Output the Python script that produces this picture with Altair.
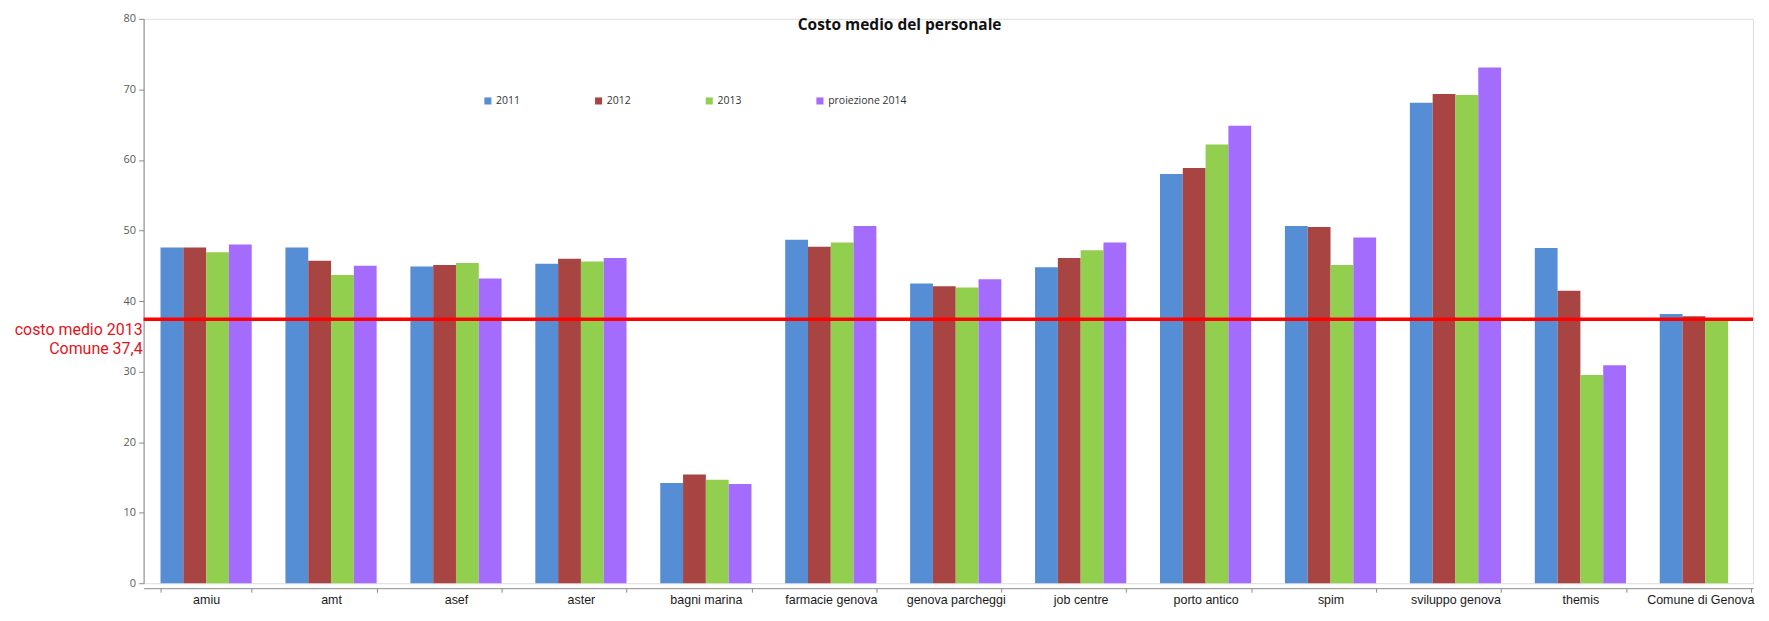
import altair as alt
import pandas as pd

# ---- data ----
categories = ["amiu", "amt", "asef", "aster", "bagni marina", "farmacie genova",
              "genova parcheggi", "job centre", "porto antico", "spim",
              "sviluppo genova", "themis", "Comune di Genova"]
series = ["2011", "2012", "2013", "proiezione 2014"]
v2011 = [47.6, 47.6, 44.9, 45.3, 14.2, 48.7, 42.5, 44.8, 58.0, 50.65, 68.1, 47.5, 38.15]
v2012 = [47.6, 45.7, 45.1, 46.0, 15.4, 47.7, 42.1, 46.1, 58.85, 50.5, 69.35, 41.45, 37.85]
v2013 = [46.9, 43.7, 45.4, 45.6, 14.65, 48.3, 41.9, 47.2, 62.2, 45.1, 69.2, 29.5, 37.4]
v2014 = [48.0, 45.0, 43.2, 46.1, 14.05, 50.65, 43.1, 48.3, 64.85, 49.0, 73.1, 30.9, None]
colors = ["#558ED5", "#A84543", "#92CF4F", "#A46CFD"]
y_ticks = [0, 10, 20, 30, 40, 50, 60, 70, 80]
comune_avg_2013 = 37.4
annotation_lines = ["costo medio 2013", "Comune 37,4"]
title_text = "Costo medio del personale"

rows = []
for s, vals in zip(series, [v2011, v2012, v2013, v2014]):
    for c, v in zip(categories, vals):
        if v is not None:
            rows.append({"ente": c, "serie": s, "valore": v})
df = pd.DataFrame(rows)

W, H = 1614, 566

bars = alt.Chart(df).mark_bar().encode(
    x=alt.X("ente:N", sort=categories,
            scale=alt.Scale(paddingInner=0.27, paddingOuter=0.076, align=0.89),
            axis=alt.Axis(title=None, labelAngle=0, tickBand="extent", offset=5,
                          tickSize=4, labelPadding=1, domainColor="#8a8a8a",
                          tickColor="#8a8a8a", labelColor="#1a1a1a",
                          labelFont="Liberation Sans", labelFontSize=12.5,
                          labelBaseline="top",
                          labelOffset={"condition": {"test": "datum.value === 'Comune di Genova'",
                                                     "value": -5},
                                       "value": 0})),
    xOffset=alt.XOffset("serie:N", sort=series,
                        scale=alt.Scale(paddingInner=0, paddingOuter=0)),
    y=alt.Y("valore:Q", scale=alt.Scale(domain=[0, 80], nice=False, zero=True),
            axis=alt.Axis(title=None, values=y_ticks, grid=False, tickSize=5,
                          domainColor="#8a8a8a", tickColor="#8a8a8a",
                          labelColor="#595959", labelFont="Open Sans",
                          labelFontSize=11, labelPadding=3)),
    color=alt.Color("serie:N", sort=series,
                    scale=alt.Scale(domain=series, range=colors),
                    legend=alt.Legend(title=None, orient="none", direction="horizontal",
                                      legendX=340, legendY=77, padding=0,
                                      symbolType="square", symbolSize=50,
                                      symbolStrokeWidth=0, labelFont="Open Sans",
                                      labelFontSize=10.5, labelColor="#333333",
                                      labelOffset=3, columnPadding=73)),
)

rule = alt.Chart(pd.DataFrame({"v": [comune_avg_2013]})).mark_rule(
    color="#FF0000", strokeWidth=3.5
).encode(y=alt.Y("v:Q"))

label = alt.Chart(pd.DataFrame({"v": [comune_avg_2013]})).mark_text(
    align="right", baseline="top", dx=-1, dy=3, fontSize=16, font="Roboto",
    color="#E3131B", lineHeight=19
).encode(x=alt.value(0), y=alt.Y("v:Q"), text=alt.value(annotation_lines))

chart = alt.layer(bars, rule, label).properties(
    width=W, height=H,
    title=alt.Title(title_text, anchor="start", frame="group", dx=656, dy=28,
                    offset=0, baseline="middle", fontSize=15.5, fontWeight="bold",
                    font="Open Sans", color="#111111"),
    autosize=alt.AutoSizeParams(type="none"),
    padding={"left": 136, "top": 10, "right": 8, "bottom": 24},
).configure_view(stroke=None).configure(background="white")

chart.save("out.html", embed_options={"renderer": "svg", "actions": False})
